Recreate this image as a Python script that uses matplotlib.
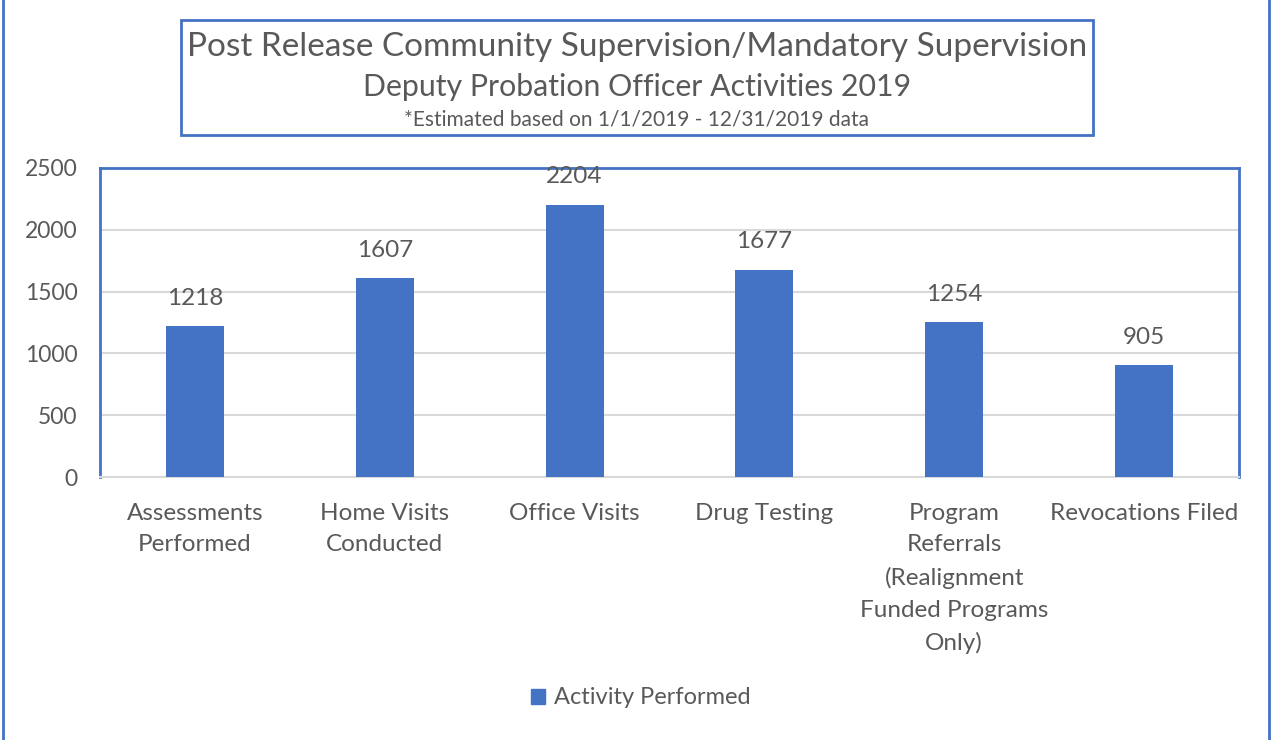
import matplotlib.pyplot as plt
from matplotlib.patches import Rectangle, Patch

categories = ['Assessments\nPerformed', 'Home Visits\nConducted', 'Office Visits',
              'Drug Testing', 'Program\nReferrals\n(Realignment\nFunded Programs\nOnly)',
              'Revocations Filed']
values = [1218, 1607, 2204, 1677, 1254, 905]
yticks = [0, 500, 1000, 1500, 2000, 2500]
title_lines = ['Post Release Community Supervision/Mandatory Supervision',
               'Deputy Probation Officer Activities 2019',
               '*Estimated based on 1/1/2019 - 12/31/2019 data']
series_name = 'Activity Performed'

BLUE = '#4472C4'
TEXT = '#595959'
plt.rcParams['font.family'] = ['Lato', 'DejaVu Sans']

W, H = 1271, 740
fig = plt.figure(figsize=(W / 100, H / 100), dpi=100)

# outer frame lines (left / right)
fig.add_artist(plt.Line2D([3 / W, 3 / W], [0, 1], color=BLUE, lw=2))
fig.add_artist(plt.Line2D([1269 / W, 1269 / W], [0, 1], color=BLUE, lw=2))

# title box
fig.add_artist(Rectangle((181 / W, 1 - 135 / H), (1093 - 181) / W, (135 - 20) / H,
                         transform=fig.transFigure, fill=False, edgecolor=BLUE, lw=2))
tx = 637 / W
fig.text(tx, 1 - 47 / H, title_lines[0], ha='center', va='center', fontsize=24,
         color=TEXT)
fig.text(tx, 1 - 87 / H, title_lines[1], ha='center', va='center', fontsize=21.8,
         color=TEXT)
fig.text(tx, 1 - 119 / H, title_lines[2], ha='center', va='center', fontsize=15,
         color=TEXT)

# plot area
left, right, top, bottom = 100, 1239, 168, 477
ax = fig.add_axes([left / W, 1 - bottom / H, (right - left) / W, (bottom - top) / H])
x = range(len(values))
ax.bar(x, values, width=0.305, color=BLUE, zorder=3)
ax.set_xlim(-0.5, len(values) - 0.5)
ax.set_ylim(0, 2500)
ax.set_yticks(yticks)
ax.set_yticklabels([str(t) for t in yticks])
ax.set_xticks(list(x))
ax.set_xticklabels(categories, linespacing=1.63)
ax.tick_params(axis='both', length=0, colors=TEXT, labelsize=17.5)
ax.tick_params(axis='y', labelsize=16.5, pad=16)
ax.tick_params(axis='x', pad=18.5)
ax.grid(axis='y', color='#D9D9D9', lw=1.5, zorder=0)
for side in ['left', 'top', 'right']:
    ax.spines[side].set_color(BLUE)
    ax.spines[side].set_linewidth(2)
ax.spines['bottom'].set_color('#D9D9D9')
ax.spines['bottom'].set_linewidth(1.5)

for xi, v in zip(x, values):
    ax.annotate(str(v), (xi, v), xytext=(0, 20), textcoords='offset points',
                ha='center', va='center', fontsize=17.5, color=TEXT)

fig.legend(handles=[Patch(color=BLUE, label=series_name)], loc='center',
           bbox_to_anchor=(641 / W, 1 - 698 / H), frameon=False, fontsize=17,
           handlelength=0.6, handleheight=0.6, handletextpad=0.4, labelcolor=TEXT)

fig.savefig('out.png', dpi=100)
